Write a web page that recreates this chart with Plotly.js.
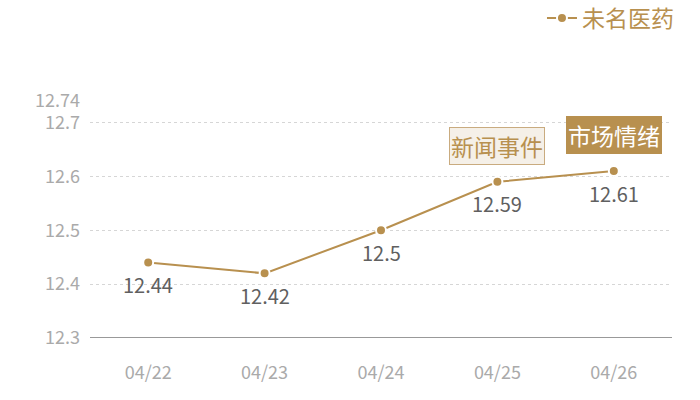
<!DOCTYPE html>
<html>
<head>
<meta charset="utf-8">
<script src="https://cdn.plot.ly/plotly-3.0.1.min.js"></script>
<style>html,body{margin:0;padding:0;background:#fff;}#chart{width:700px;height:400px;}</style>
</head>
<body>
<div id="chart"></div>
<script>
const dates = ["04/22", "04/23", "04/24", "04/25", "04/26"];
const prices = [12.44, 12.42, 12.5, 12.59, 12.61];
const priceLabels = ["12.44", "12.42", "12.5", "12.59", "12.61"];
const seriesName = "未名医药";
const yTicks = [12.3, 12.4, 12.5, 12.6, 12.7, 12.74];
const yTickText = ["12.3", "12.4", "12.5", "12.6", "12.7", "12.74"];
const tagTexts = ["新闻事件", "市场情绪"];
const tagDates = ["04/25", "04/26"];
const tagLevels = [12.657, 12.676];

const gold = "#b8904f";
const font = "'Noto Sans CJK SC', 'Noto Sans', sans-serif";

const trace = {
  x: dates, y: prices, type: "scatter", mode: "lines+markers", name: seriesName,
  line: {color: gold, width: 2},
  marker: {color: gold, size: 10, line: {color: "#ffffff", width: 2}},
  hoverinfo: "none"
};

const annotations = dates.map((d, i) => ({
  x: d, y: prices[i], xref: "x", yref: "y", text: priceLabels[i],
  showarrow: false, yshift: -22,
  font: {family: font, size: 20, color: "#606060"}
}));
annotations.push({
  x: tagDates[0], y: tagLevels[0], xref: "x", yref: "y", text: tagTexts[0],
  showarrow: false, bgcolor: "#f5f0e8", bordercolor: "#c9ab7f", borderwidth: 1, borderpad: 1,
  font: {family: font, size: 23, color: gold}
});
annotations.push({
  x: tagDates[1], y: tagLevels[1], xref: "x", yref: "y", text: tagTexts[1],
  showarrow: false, bgcolor: gold, bordercolor: gold, borderwidth: 1, borderpad: 1,
  font: {family: font, size: 23, color: "#ffffff"}
});

const layout = {
  width: 700, height: 400,
  margin: {l: 90, r: 28, t: 101, b: 62, autoexpand: false},
  paper_bgcolor: "#ffffff", plot_bgcolor: "#ffffff",
  font: {family: font},
  showlegend: true,
  legend: {
    orientation: "h", x: 1.012, xanchor: "right", y: 1.35, yanchor: "middle",
    font: {family: font, size: 23, color: gold}, bgcolor: "rgba(0,0,0,0)",
    itemwidth: 30
  },
  xaxis: {
    type: "category", range: [-0.5, 4.5],
    showgrid: false, zeroline: false, showline: false,
    ticks: "", tickfont: {family: font, size: 18, color: "#aaaaaa"},
    ticklabelstandoff: 22
  },
  yaxis: {
    range: [12.3, 12.74], tickvals: yTicks, ticktext: yTickText,
    showgrid: true, gridcolor: "#d6d6d6", griddash: "dot", gridwidth: 1,
    zeroline: false, showline: false, ticks: "",
    tickfont: {family: font, size: 18, color: "#aaaaaa"},
    ticklabelstandoff: 9
  },
  shapes: [{
    type: "line", xref: "paper", yref: "y", x0: 0, x1: 1, y0: 12.3, y1: 12.3,
    line: {color: "#333333", width: 1}
  }],
  annotations: annotations
};

Plotly.newPlot("chart", [trace], layout, {displayModeBar: false, staticPlot: true});
</script>
</body>
</html>
